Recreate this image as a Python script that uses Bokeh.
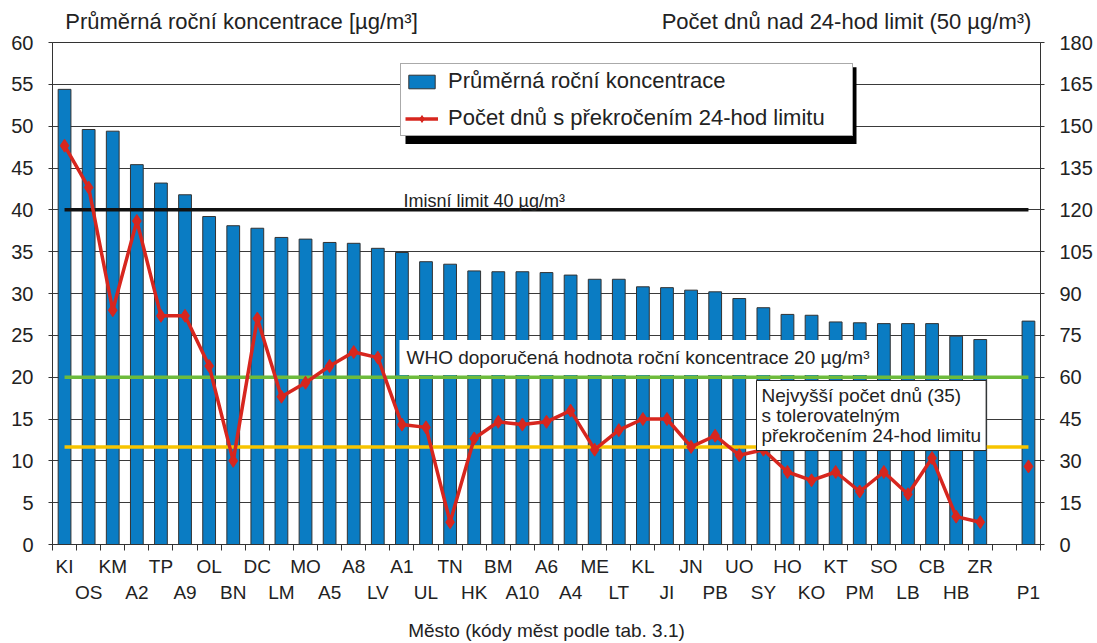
import numpy as np
from bokeh.plotting import figure
from bokeh.models import (Range1d, LinearAxis, FixedTicker, Legend,
                          LegendItem, Label, BoxAnnotation, Grid, ColumnDataSource)
from bokeh.embed import file_html
from bokeh.resources import INLINE

# ---------------- data ----------------
cities = ["KI", "OS", "KM", "A2", "TP", "A9", "OL", "BN", "DC", "LM",
          "MO", "A5", "A8", "LV", "A1", "UL", "TN", "HK", "BM", "A10",
          "A6", "A4", "ME", "LT", "KL", "JI", "JN", "PB", "UO", "SY",
          "HO", "KO", "KT", "PM", "SO", "LB", "CB", "HB", "ZR", "P1"]
concentration = [54.4, 49.6, 49.4, 45.4, 43.2, 41.8, 39.2, 38.1, 37.8, 36.7,
                 36.5, 36.1, 36.0, 35.4, 34.9, 33.8, 33.5, 32.7, 32.6, 32.6,
                 32.5, 32.2, 31.7, 31.7, 30.8, 30.7, 30.4, 30.2, 29.4, 28.3,
                 27.5, 27.4, 26.6, 26.5, 26.4, 26.4, 26.4, 24.9, 24.5, 26.7]
days_over = [143, 128, 84, 116, 82, 82, 64, 30, 81, 53,
             58, 64, 69, 67, 43, 42, 8, 38, 44, 43,
             44, 48, 34, 41, 45, 45, 35, 39, 32, 34,
             26, 23, 26, 19, 26, 18, 31, 10, 8, 28]
separate_station = "P1"          # shown after a gap, not joined to the line
imission_limit = 40              # µg/m3
who_limit = 20                   # µg/m3
tolerated_days = 35              # days

left_ticks = list(range(0, 61, 5))
right_ticks = list(range(0, 181, 15))

left_title = "Průměrná roční koncentrace [µg/m³]"
right_title = "Počet dnů nad 24-hod limit (50 µg/m³)"
x_title = "Město (kódy měst podle tab. 3.1)"

# ---------------- layout of categories ----------------
n_main = cities.index(separate_station)
slot = [i for i in range(n_main)] + [n_main + 1]
xc = [s + 0.5 for s in slot]
n_slots = slot[-1] + 1
row1 = [(x, c) for x, c, s in zip(xc, cities, slot) if s % 2 == 0 and c != separate_station]
row2 = [(x, c) for x, c, s in zip(xc, cities, slot) if s % 2 == 1 or c == separate_station]

FONT = "Liberation Sans"
BLUE = "#0a7cc3"
RED = "#d7261e"
TXT = "#222222"

FL, FT, FW, FH = 52, 42, 988, 505   # frame geometry on the page


def px_x(v):
    return (v - FL) / FW * n_slots


def px_y(v):
    return (FT + FH - v) / FH * 60


p = figure(width=1097, height=643, x_range=Range1d(0, n_slots), y_range=Range1d(0, 60),
           output_backend="svg", toolbar_location=None,
           min_border_left=FL, min_border_right=1097 - FL - FW, min_border_top=FT,
           min_border_bottom=643 - FT - FH,
           x_axis_type=None, y_axis_type=None)
p.extra_y_ranges = {"days": Range1d(0, 180)}
p.outline_line_color = "#333333"
p.background_fill_color = "white"
p.border_fill_color = "white"

# y axes
yl = LinearAxis(ticker=FixedTicker(ticks=left_ticks))
yr = LinearAxis(y_range_name="days", ticker=FixedTicker(ticks=right_ticks))
for ax in (yl, yr):
    ax.major_label_text_font = FONT
    ax.major_label_text_font_size = "20px"
    ax.major_label_text_color = TXT
    ax.major_tick_out = 4
    ax.major_tick_in = 0
    ax.minor_tick_line_color = None
    ax.axis_line_color = "#333333"
    ax.major_tick_line_color = "#333333"
yl.major_label_standoff = 15
yr.major_label_standoff = 15
p.add_layout(yl, "left")
p.add_layout(yr, "right")
p.add_layout(Grid(dimension=1, ticker=yl.ticker, grid_line_color="#3a3a3a", grid_line_width=1))

# top "axis" carrying the two axis titles
top = LinearAxis(ticker=FixedTicker(ticks=[px_x(241), px_x(846)]),
                 major_label_overrides={px_x(241): left_title, px_x(846): right_title})
top.axis_line_color = None
top.major_tick_line_color = None
top.minor_tick_line_color = None
top.major_tick_out = 0
top.major_tick_in = 0
top.major_label_standoff = 9
top.major_label_text_font = FONT
top.major_label_text_font_size = "22px"
top.major_label_text_color = TXT
p.add_layout(top, "above")

# x axes: row 1 (with boundary ticks) and row 2
x1 = LinearAxis(ticker=FixedTicker(ticks=[x for x, _ in row1], minor_ticks=list(range(n_slots + 1))),
                major_label_overrides={x: c for x, c in row1})
x1.major_tick_out = 0
x1.major_tick_in = 0
x1.major_tick_line_color = None
x1.minor_tick_out = 6
x1.minor_tick_in = 0
x1.minor_tick_line_color = "#333333"
x1.axis_line_color = "#333333"
x1.major_label_standoff = 5
x2 = LinearAxis(ticker=FixedTicker(ticks=[x for x, _ in row2]),
                major_label_overrides={x: c for x, c in row2})
x2.major_tick_out = 0
x2.major_tick_in = 0
x2.major_tick_line_color = None
x2.minor_tick_line_color = None
x2.axis_line_color = None
x2.major_label_standoff = 2
x2.axis_label = x_title
x2.axis_label_standoff = 14
x2.axis_label_text_font = FONT
x2.axis_label_text_font_size = "19px"
x2.axis_label_text_font_style = "normal"
x2.axis_label_text_color = TXT
for ax in (x1, x2):
    ax.major_label_text_font = FONT
    ax.major_label_text_font_size = "19px"
    ax.major_label_text_color = TXT
p.add_layout(x1, "below")
p.add_layout(x2, "below")

# bars
src = ColumnDataSource(dict(x=xc, c=concentration, d=days_over, city=cities))
bars = p.vbar(x="x", top="c", width=0.53, source=src, fill_color=BLUE,
              line_color="#333333", line_width=1)

# limit lines
xs = [xc[0], xc[-1]]
p.line(xs, [imission_limit] * 2, line_color="#111111", line_width=3.5)
p.line(xs, [who_limit] * 2, line_color="#6dbb3c", line_width=3.5)
p.line(xs, [tolerated_days] * 2, y_range_name="days", line_color="#f7c400", line_width=3.5)

# days line
main_src = ColumnDataSource(dict(x=xc[:n_main], d=days_over[:n_main]))
ln = p.line("x", "d", source=main_src, y_range_name="days", line_color=RED, line_width=3.5)
mk = p.scatter("x", "d", source=src, y_range_name="days", marker="diamond", size=13,
               fill_color=RED, line_color=RED)

# in-plot texts
p.add_layout(Label(x=px_x(403), y=px_y(201), text="Imisní limit 40 µg/m³",
                   text_font=FONT, text_font_size="18px", text_color=TXT,
                   text_baseline="alphabetic", text_align="left"))
p.add_layout(Label(x=px_x(399), y=px_y(359), text="WHO doporučená hodnota roční koncentrace 20 µg/m³",
                   text_font=FONT, text_font_size="19px", text_color=TXT,
                   text_baseline="middle", text_align="left",
                   background_fill_color="white", padding=7))
p.add_layout(Label(x=px_x(756), y=px_y(382),
                   text="Nejvyšší počet dnů (35)\ns tolerovatelným\npřekročením 24-hod limitu",
                   text_font=FONT, text_font_size="19px", text_color=TXT,
                   text_baseline="top", text_align="left", text_line_height=0.93,
                   background_fill_color="white", border_line_color="#222222",
                   border_line_width=1, padding=5))

# legend with shadow
p.add_layout(BoxAnnotation(left=px_x(405), right=px_x(856), top=px_y(67), bottom=px_y(144),
                           fill_color="black", fill_alpha=1, line_color=None))
legend = Legend(items=[LegendItem(label="Průměrná roční koncentrace", renderers=[bars]),
                       LegendItem(label="Počet dnů s překročením 24-hod limitu", renderers=[ln, mk])],
                location=(348, 408), label_text_font=FONT, label_text_font_size="22px",
                label_text_color=TXT, glyph_width=33, glyph_height=17, label_standoff=10,
                padding=4, spacing=11, margin=0, label_width=400,
                border_line_color="#555555", border_line_width=1, background_fill_alpha=1,
                background_fill_color="white")
p.add_layout(legend)

open("out.html", "w").write(file_html(p, INLINE))
